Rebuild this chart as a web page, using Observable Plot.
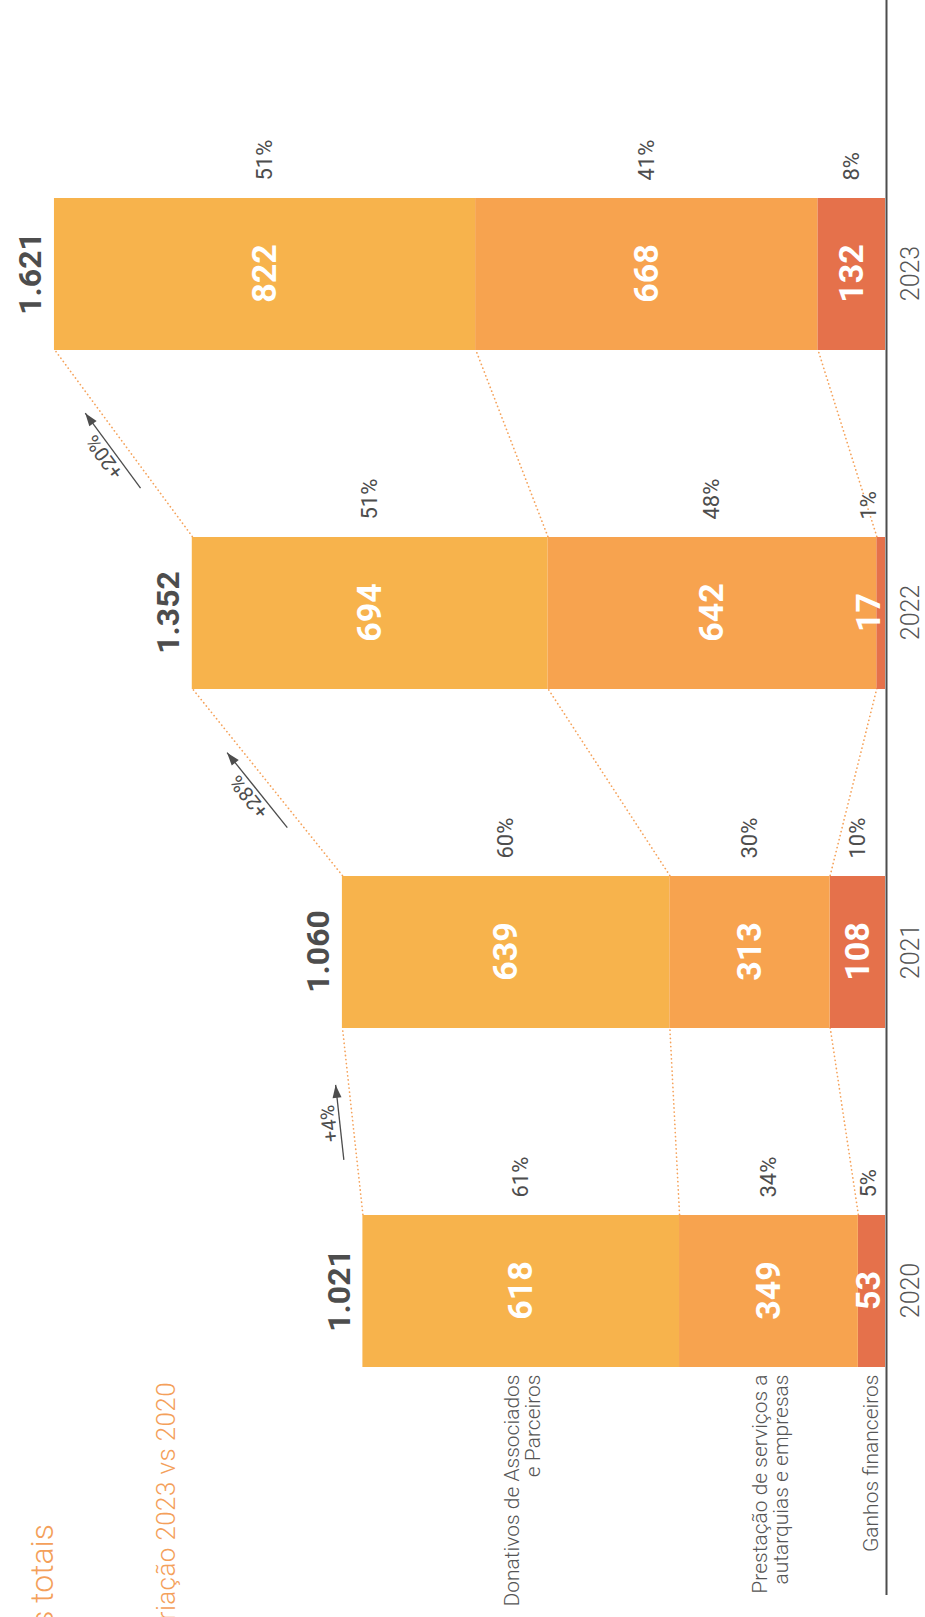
<!DOCTYPE html>
<html><head><meta charset="utf-8">
<script src="https://cdn.jsdelivr.net/npm/d3@7"></script>
<script src="https://cdn.jsdelivr.net/npm/@observablehq/plot@0.6"></script>
<style>
html,body{margin:0;padding:0;background:#fff;overflow:hidden;width:925px;height:1617px;}
#stage{position:absolute;left:0;top:0;width:1617px;height:925px;transform-origin:0 0;transform:translate(0,1617px) rotate(-90deg);font-family:Roboto,sans-serif;}
.ttl{position:absolute;white-space:nowrap;color:#F4A05A;font-weight:300;line-height:1;margin:0;}
#title{right:1524px;top:26px;font-size:32px;}
#subtitle{right:1382px;top:153px;font-size:26px;letter-spacing:0.4px;}
#chart{position:absolute;left:0;top:0;}
</style></head><body>
<div id="stage"><div id="chart"></div><div id="title" class="ttl">Receitas totais</div><div id="subtitle" class="ttl">Variação 2023 vs 2020</div></div>
<script>
const years = ["2020", "2021", "2022", "2023"];
const categories = ["Ganhos financeiros", "Prestação de serviços a\nautarquias e empresas", "Donativos de Associados\ne Parceiros"];
const ganhos = [53, 108, 17, 132];
const prestacao = [349, 313, 642, 668];
const donativos = [618, 639, 694, 822];
const pctGanhos = ["5%", "10%", "1%", "8%"];
const pctPrestacao = ["34%", "30%", "48%", "41%"];
const pctDonativos = ["61%", "60%", "51%", "51%"];
const totals = [1021, 1060, 1352, 1621];
const growth = ["+4%", "+28%", "+20%"];
const colors = ["#E5714B", "#F7A34F", "#F7B34C"];

// layout (pixels)
const X0 = 326, STEP = 339, BARW = 152, Y0 = 885, YTOP = 14, YMAX = 1700;
const hw = (BARW / 2) / STEP;
const pxPerY = (Y0 - YTOP) / YMAX;

const series = [ganhos, prestacao, donativos];
const pcts = [pctGanhos, pctPrestacao, pctDonativos];
const rows = [];
const tops = [];
years.forEach((yr, i) => {
  let c = 0; const lv = [];
  series.forEach((s, k) => {
    rows.push({i, year: yr, k, cat: categories[k], value: s[i], pct: pcts[k][i], y1: c, y2: c + s[i]});
    c += s[i]; lv.push(c);
  });
  tops.push(lv);
});
const labelY = r => Math.max((r.y1 + r.y2) / 2, 32);

const links = [];
for (let i = 0; i < years.length - 1; i++)
  for (let k = 0; k < 3; k++)
    links.push({x1: i + hw, y1: tops[i][k], x2: i + 1 - hw, y2: tops[i + 1][k]});

const fmt = d3.formatLocale({decimal: ",", thousands: ".", grouping: [3], currency: ["", "€"]}).format(",");

const headSymbol = {draw(ctx) { ctx.moveTo(0, 0); ctx.lineTo(-4.5, 13); ctx.lineTo(4.5, 13); ctx.closePath(); }};

const arrowMarks = [];
growth.forEach((g, i) => {
  const ax1 = i + hw, ay1 = tops[i][2], ax2 = i + 1 - hw, ay2 = tops[i + 1][2];
  const slopeData = (ay2 - ay1) / (ax2 - ax1);
  const lineAt = x => ay1 + slopeData * (x - ax1);
  const m = -(slopeData * pxPerY) / STEP;
  const norm = Math.hypot(1, m);
  const nx = m / norm, ny = -1 / norm; // upward normal
  const half = 37.5 / STEP;
  const xs = i + 0.5 - half, xe = i + 0.5 + half, xm = i + 0.5;
  const off = 13, toff = 17;
  const a = {x1: xs, y1: lineAt(xs), x2: xe, y2: lineAt(xe)};
  arrowMarks.push(Plot.link([a], {x1: "x1", y1: "y1", x2: "x2", y2: "y2", stroke: "#4d4d4d", strokeWidth: 1.3, dx: nx * off, dy: ny * off}));
  arrowMarks.push(Plot.dot([a], {x: "x2", y: "y2", symbol: headSymbol, fill: "#4d4d4d", stroke: "none", r: 5,
    rotate: Math.atan2(1, -m) * 180 / Math.PI, dx: nx * off, dy: ny * off}));
  arrowMarks.push(Plot.text([g], {x: () => xm, y: () => lineAt(xm), text: d => d, rotate: Math.atan2(m, 1) * 180 / Math.PI,
    lineAnchor: "bottom", textAnchor: "middle", fontSize: 20, fill: "#4d4d4d", dx: nx * toff, dy: ny * toff}));
});

const chart = Plot.plot({
  width: 1617, height: 925,
  marginLeft: 22, marginRight: 0, marginTop: 0, marginBottom: 0,
  x: {type: "linear", domain: [0, 3], range: [X0, X0 + 3 * STEP], axis: null},
  y: {type: "linear", domain: [0, YMAX], range: [Y0, YTOP], axis: null},
  color: {domain: categories, range: colors},
  style: {fontFamily: "Roboto, sans-serif", background: "transparent", overflow: "visible"},
  marks: [
    Plot.link(links, {x1: "x1", y1: "y1", x2: "x2", y2: "y2", stroke: "#F5A25A", strokeWidth: 1.7, strokeDasharray: "0.1,4", strokeLinecap: "round"}),
    Plot.rect(rows, {x1: r => r.i - hw, x2: r => r.i + hw, y1: "y1", y2: "y2", fill: "cat"}),
    Plot.ruleY([0], {stroke: "#4d4d4d", strokeWidth: 2, dy: 1}),
    Plot.text(rows, {x: "i", y: labelY, text: r => String(r.value), fill: "white", fontWeight: 700, fontSize: 34}),
    Plot.text(rows, {x: r => r.i + hw, y: labelY, text: "pct", dx: 17, textAnchor: "start", fill: "#4d4d4d", fontSize: 22}),
    Plot.text(rows.filter(r => r.i === 0), {x: r => r.i - hw, y: labelY, text: "cat", dx: -8, dy: 2, textAnchor: "end", fontSize: 21, fontWeight: 300, fill: "#555", lineHeight: 1}),
    Plot.text(years, {x: (d, i) => i, y: (d, i) => tops[i][2], text: (d, i) => fmt(totals[i]), lineAnchor: "bottom", dy: -13, fontSize: 32, fontWeight: 700, fill: "#4d4d4d"}),
    Plot.text(years, {x: (d, i) => i, y: () => 0, text: d => d, lineAnchor: "bottom", dy: 33, fontSize: 25, fontWeight: 300, fill: "#555"}),
    ...arrowMarks
  ]
});
document.getElementById("chart").appendChild(chart);
</script>
</body></html>
